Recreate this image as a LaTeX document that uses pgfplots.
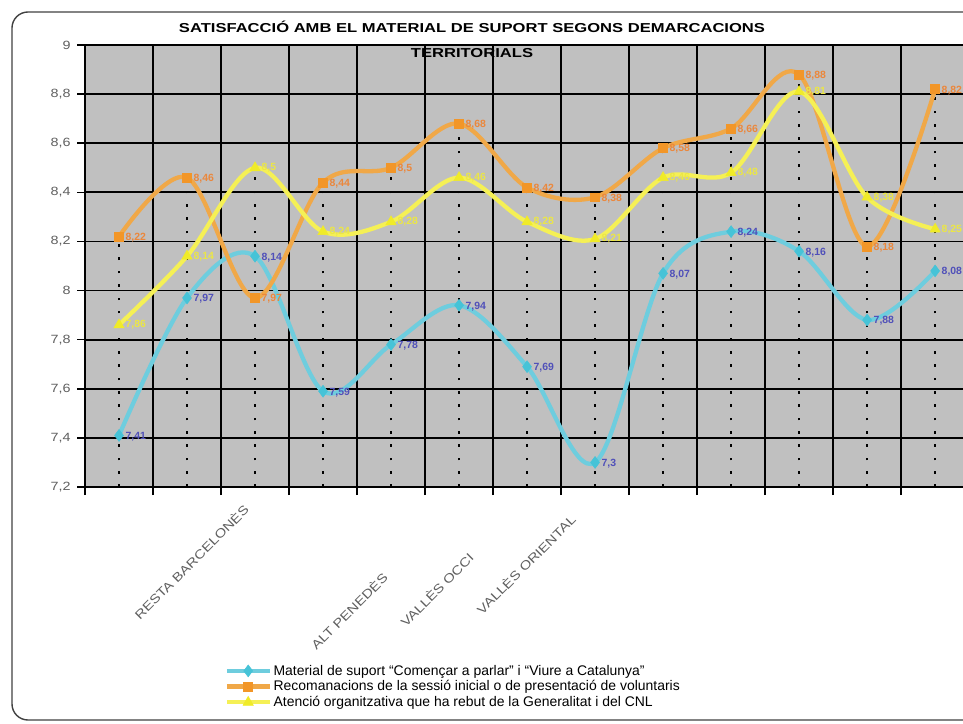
\documentclass[border=0pt]{standalone}
\usepackage{fontspec}
\setmainfont{Liberation Sans}
\newfontfamily\widefont[FakeStretch=1.28]{Liberation Sans}
\newfontfamily\midfont[FakeStretch=1.2]{Liberation Sans}
\usepackage{pgfplots}
\pgfplotsset{compat=1.18}
\definecolor{bggray}{RGB}{192,192,192}
\definecolor{cyanl}{RGB}{110,205,222}
\definecolor{cyanm}{RGB}{70,195,215}
\definecolor{orangel}{RGB}{240,168,72}
\definecolor{orangem}{RGB}{242,150,40}
\definecolor{yellowl}{RGB}{245,240,85}
\definecolor{yellowm}{RGB}{240,235,40}
\definecolor{lblblue}{RGB}{80,80,185}
\definecolor{lblorange}{RGB}{235,135,60}
\definecolor{lblyellow}{RGB}{235,230,70}
\definecolor{ticktxt}{RGB}{95,95,95}
\begin{document}
\begin{tikzpicture}
\useasboundingbox (-85bp,-237bp) rectangle (878bp,487bp);
\begin{axis}[
  at={(0,0)}, anchor=south west,
  scale only axis, width=878bp, height=442bp,
  xmin=-0.5, xmax=12.41, ymin=7.2, ymax=9,
  axis background/.style={fill=bggray},
  axis x line*=bottom, axis y line*=left,
  axis line style={black, line width=1.5pt, -},
  xtick={-0.5,0.5,...,12.5}, xticklabels={},
  ytick={7.2,7.4,...,9.01},
  yticklabel style={text=ticktxt, font=\midfont\fontsize{12}{14}\selectfont, xshift=-3bp},
  /pgf/number format/.cd, use comma, assume math mode=true, /pgfplots/.cd,
  tick style={black, line width=1.5pt},
  tick align=outside, major tick length=8bp,
  xmajorgrids, ymajorgrids,
  major grid style={black, line width=1.8pt},
  clip=true,
  legend style={at={(0.159,-0.398)}, anchor=north west, draw=none, fill=none,
    font=\fontsize{14}{16.5}\selectfont, row sep=0bp, inner sep=0pt,
    /tikz/every even column/.append style={column sep=1bp}},
  legend cell align=left,
  legend image code/.code={
    \draw[#1, mark repeat=2, mark phase=2] plot coordinates {(0cm,0cm) (0.75cm,0cm) (1.5cm,0cm)};
  },
]
% drop lines
\addplot[ycomb, black, line width=2.2pt, dash pattern=on 2.6pt off 10.8pt, no markers, forget plot]
  coordinates {(0,8.22) (1,8.46) (2,8.50) (3,8.44) (4,8.50) (5,8.68) (6,8.42) (7,8.38) (8,8.58) (9,8.66) (10,8.88) (11,8.38) (12,8.82)};
% series
\addplot[cyanl, line width=4.3pt, smooth, tension=0.55, mark=diamond*,
  mark options={fill=cyanm, draw=cyanm, line width=0.5pt, mark size=6pt, solid},
  nodes near coords,
  every node near coord/.append style={anchor=west, xshift=3bp, yshift=-1bp, text=lblblue, font=\bfseries\fontsize{10.5}{12}\selectfont}]
  coordinates {(0,7.41) (1,7.97) (2,8.14) (3,7.59) (4,7.78) (5,7.94) (6,7.69) (7,7.3) (8,8.07) (9,8.24) (10,8.16) (11,7.88) (12,8.08)};
\addlegendentry{Material de suport ``Començar a parlar'' i ``Viure a Catalunya''}
\addplot[orangel, line width=4.3pt, smooth, tension=0.55, mark=square*,
  mark options={fill=orangem, draw=orangem, line width=0.5pt, mark size=4.5pt, solid},
  nodes near coords,
  every node near coord/.append style={anchor=west, xshift=3bp, yshift=-1bp, text=lblorange, font=\bfseries\fontsize{10.5}{12}\selectfont}]
  coordinates {(0,8.22) (1,8.46) (2,7.97) (3,8.44) (4,8.5) (5,8.68) (6,8.42) (7,8.38) (8,8.58) (9,8.66) (10,8.88) (11,8.18) (12,8.82)};
\addlegendentry{Recomanacions de la sessió inicial o de presentació de voluntaris}
\addplot[yellowl, line width=4.3pt, smooth, tension=0.55, mark=triangle*,
  mark options={fill=yellowm, draw=yellowm, line width=0.5pt, mark size=6pt, solid},
  nodes near coords,
  every node near coord/.append style={anchor=west, xshift=3bp, yshift=0bp, text=lblyellow, font=\bfseries\fontsize{10.5}{12}\selectfont}]
  coordinates {(0,7.86) (1,8.14) (2,8.5) (3,8.24) (4,8.28) (5,8.46) (6,8.28) (7,8.21) (8,8.46) (9,8.48) (10,8.81) (11,8.38) (12,8.25)};
\addlegendentry{Atenció organitzativa que ha rebut de la Generalitat i del CNL}
\end{axis}
% title
\node[align=center, font=\widefont\bfseries\fontsize{13}{25}\selectfont, anchor=north] at (387bp,469bp)
  {SATISFACCIÓ AMB EL MATERIAL DE SUPORT SEGONS DEMARCACIONS\\TERRITORIALS};
% category labels
\begin{scope}[every node/.style={rotate=45, anchor=east, text=ticktxt, font=\midfont\fontsize{12.5}{15}\selectfont, inner sep=0pt}]
\node at (161bp,-20bp) {RESTA BARCELONÈS};
\node at (300bp,-88bp) {ALT PENEDÈS};
\node at (386bp,-68bp) {VALLÈS OCCI};
\node at (488bp,-30bp) {VALLÈS ORIENTAL};
\end{scope}
% outer frame
\draw[black!75, line width=1.4pt, rounded corners=16bp] (-73bp,-233bp) rectangle (1000bp,475bp);
\end{tikzpicture}
\end{document}
